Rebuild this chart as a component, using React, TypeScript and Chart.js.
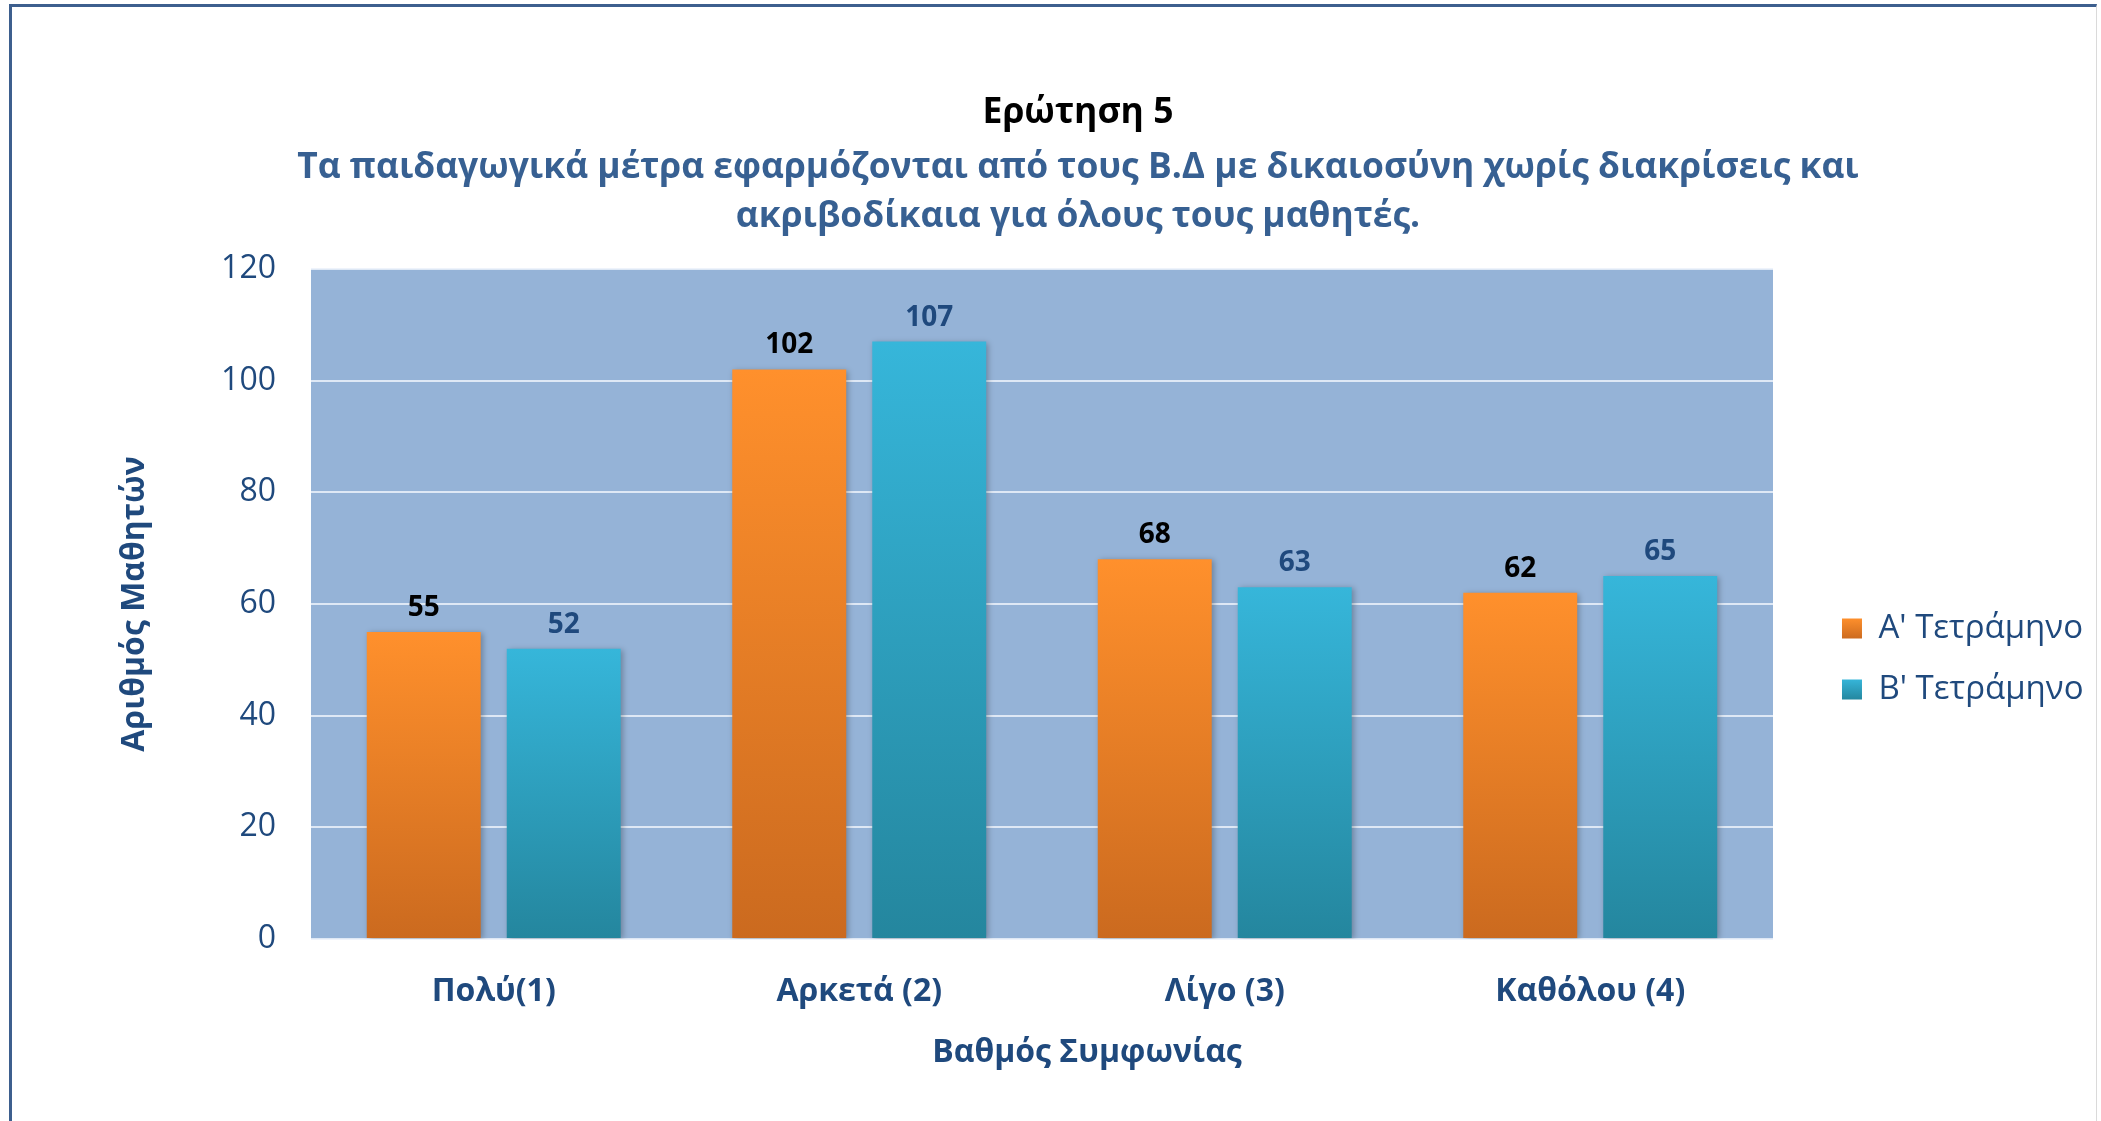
import React, { useEffect, useRef } from 'react';
import { Chart, registerables } from 'chart.js';

Chart.register(...registerables);

const categories = ['Πολύ(1)', 'Αρκετά (2)', 'Λίγο (3)', 'Καθόλου (4)'];
const seriesNames = ["Α' Τετράμηνο", "Β' Τετράμηνο"];
const seriesA = [55, 102, 68, 62];
const seriesB = [52, 107, 63, 65];
const yMin = 0;
const yMax = 120;
const yStep = 20;
const titleText = 'Ερώτηση 5';
const subtitleLines = [
  'Τα παιδαγωγικά μέτρα εφαρμόζονται από τους Β.Δ με δικαιοσύνη χωρίς διακρίσεις και',
  'ακριβοδίκαια για όλους τους μαθητές.',
];
const yAxisTitle = 'Αριθμός Μαθητών';
const xAxisTitle = 'Βαθμός Συμφωνίας';

const FONT = "'Open Sans', 'Noto Sans', sans-serif";
const DARK_BLUE = '#1F497D';
const GRADIENTS = [
  ['#FF902C', '#CB6A1F', '#E87C25'],
  ['#36B6DA', '#24869E', '#2DA0BE'],
];

function barGradient(top: string, bottom: string, flat: string) {
  return (ctx: any) => {
    const chart = ctx.chart;
    if (!chart.chartArea || ctx.type !== 'data' || !chart.scales.y) return flat;
    const y0 = chart.scales.y.getPixelForValue(ctx.raw as number);
    const y1 = chart.scales.y.getPixelForValue(0);
    if (!isFinite(y0) || !isFinite(y1) || y0 === y1) return flat;
    const g = chart.ctx.createLinearGradient(0, y0, 0, y1);
    g.addColorStop(0, top);
    g.addColorStop(1, bottom);
    return g;
  };
}

const plotBackground = {
  id: 'plotBackground',
  beforeDraw(chart: any) {
    const { ctx, chartArea } = chart;
    ctx.save();
    ctx.fillStyle = '#95B3D7';
    ctx.fillRect(chartArea.left, chartArea.top, chartArea.right - chartArea.left, chartArea.bottom - chartArea.top);
    ctx.restore();
    // gradient legend markers
    const l = chart.legend;
    if (l && l.legendItems && l.legendHitBoxes) {
      l.legendItems.forEach((item: any, i: number) => {
        const hb = l.legendHitBoxes[i];
        const g = GRADIENTS[i];
        if (!hb || !g) return;
        const grad = ctx.createLinearGradient(0, hb.top + 6, 0, hb.top + hb.height - 6);
        grad.addColorStop(0, g[0]);
        grad.addColorStop(1, g[1]);
        item.fillStyle = grad;
      });
    }
  },
};

const barShadow = {
  id: 'barShadow',
  beforeDatasetsDraw(chart: any) {
    const c = chart.ctx;
    c.save();
    c.shadowColor = 'rgba(0,0,0,0.28)';
    c.shadowBlur = 6;
    c.shadowOffsetX = 2;
    c.shadowOffsetY = 1;
  },
  afterDatasetsDraw(chart: any) {
    chart.ctx.restore();
  },
};

const valueLabels = {
  id: 'valueLabels',
  afterDatasetsDraw(chart: any) {
    const c = chart.ctx;
    chart.data.datasets.forEach((ds: any, di: number) => {
      const meta = chart.getDatasetMeta(di);
      c.save();
      c.font = `bold 28px ${FONT}`;
      c.fillStyle = di === 0 ? '#000000' : DARK_BLUE;
      c.textAlign = 'center';
      c.textBaseline = 'middle';
      meta.data.forEach((el: any, i: number) => {
        c.fillText(String(ds.data[i]), el.x, el.y - 24);
      });
      c.restore();
    });
  },
};

const legendShift = {
  id: 'legendShift',
  afterLayout(chart: any) {
    const l = chart.legend;
    if (!l) return;
    l.left += 41;
    l.right += 41;
    l.top += 55;
    l.bottom += 55;
  },
};

const xTitle = {
  id: 'xTitle',
  afterDraw(chart: any) {
    const { ctx, chartArea } = chart;
    ctx.save();
    ctx.font = `bold 32px ${FONT}`;
    ctx.fillStyle = DARK_BLUE;
    ctx.textAlign = 'center';
    ctx.textBaseline = 'middle';
    ctx.fillText(xAxisTitle, (chartArea.left + chartArea.right) / 2 + 45, chartArea.bottom + 114);
    ctx.restore();
  },
};

export default function App() {
  const ref = useRef<HTMLCanvasElement | null>(null);

  useEffect(() => {
    if (!ref.current) return;
    const chart = new Chart(ref.current, {
      type: 'bar',
      data: {
        labels: categories,
        datasets: [
          {
            label: seriesNames[0],
            data: seriesA,
            backgroundColor: barGradient(GRADIENTS[0][0], GRADIENTS[0][1], GRADIENTS[0][2]),
            borderWidth: 0,
            categoryPercentage: 0.766,
            barPercentage: 0.814,
          },
          {
            label: seriesNames[1],
            data: seriesB,
            backgroundColor: barGradient(GRADIENTS[1][0], GRADIENTS[1][1], GRADIENTS[1][2]),
            borderWidth: 0,
            categoryPercentage: 0.766,
            barPercentage: 0.814,
          },
        ],
      },
      options: {
        responsive: false,
        animation: false,
        layout: { padding: { top: 93, bottom: 75.6, left: 103.5, right: 48.5 } },
        plugins: {
          title: {
            display: true,
            text: titleText,
            color: '#000000',
            font: { family: FONT, size: 35.5, weight: 'bold', lineHeight: '40px' },
            padding: { top: 0, bottom: 0 },
          },
          subtitle: {
            display: true,
            text: subtitleLines,
            color: '#376092',
            font: { family: FONT, size: 35.4, weight: 'bold', lineHeight: '49px' },
            padding: { top: 10.5, bottom: 27.5 },
          },
          legend: {
            display: true,
            position: 'right',
            fullSize: false,
            align: 'center',
            labels: {
              boxWidth: 20,
              boxHeight: 20,
              padding: 28,
              color: DARK_BLUE,
              font: { family: FONT, size: 33 },
            },
          },
          tooltip: { enabled: false },
        },
        scales: {
          x: {
            grid: { display: false, drawTicks: false },
            border: { display: false },
            ticks: {
              color: DARK_BLUE,
              padding: 34,
              font: { family: FONT, size: 32, weight: 'bold' },
            },
          },
          y: {
            min: yMin,
            max: yMax,
            grid: { color: 'rgba(235,241,250,0.85)', lineWidth: 2, drawTicks: false },
            border: { display: false },
            ticks: {
              stepSize: yStep,
              color: DARK_BLUE,
              padding: 35,
              font: { family: FONT, size: 32 },
            },
            title: {
              display: true,
              text: yAxisTitle,
              color: DARK_BLUE,
              font: { family: FONT, size: 32, weight: 'bold' },
              padding: { top: 11.9, bottom: 32.3 },
            },
          },
        },
      },
      plugins: [plotBackground, barShadow, valueLabels, legendShift, xTitle],
    });
    return () => chart.destroy();
  }, []);

  return (
    <div style={{ position: 'fixed', left: 0, top: 0, width: 2101, height: 1121, overflow: 'hidden', background: '#fff' }}>
      <div
        style={{
          position: 'absolute',
          left: 9,
          top: 4,
          width: 2088,
          height: 1300,
          borderLeft: '3px solid #3D5F8E',
          borderTop: '3px solid #3D5F8E',
          borderRight: '1px solid #DADADA',
          boxSizing: 'border-box',
        }}
      />
      <canvas ref={ref} width={2101} height={1121} style={{ position: 'absolute', left: 0, top: 0, width: 2101, height: 1121 }} />
    </div>
  );
}
